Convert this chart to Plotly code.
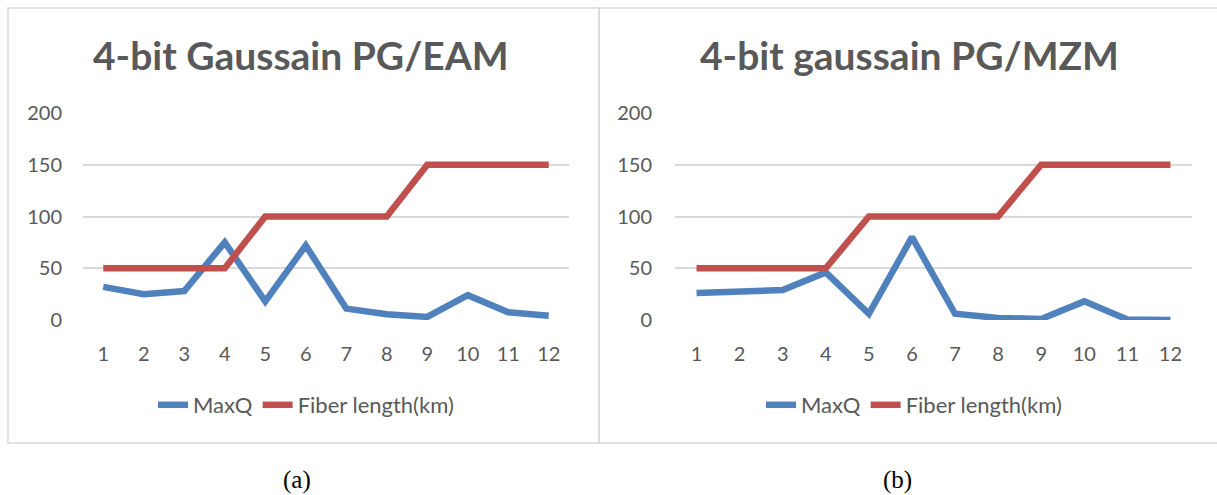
import plotly.graph_objects as go

# Sample index along the x axis
samples = list(range(1, 13))

# Panel (a): 4-bit Gaussian PG with EAM
maxq_eam = [32, 25, 28, 75, 18, 72, 11, 5.5, 3, 24, 7.5, 4]
fiber_eam = [50, 50, 50, 50, 100, 100, 100, 100, 150, 150, 150, 150]

# Panel (b): 4-bit Gaussian PG with MZM
maxq_mzm = [26, 28, 29, 46, 6, 80, 6, 2, 1, 18, 0.5, 0]
fiber_mzm = [50, 50, 50, 50, 100, 100, 100, 100, 150, 150, 150, 150]

titles = ["4-bit Gaussain PG/EAM", "4-bit gaussain PG/MZM"]
captions = ["(a)", "(b)"]
y_ticks = [0, 50, 100, 150, 200]

W, H = 1217, 495
BLUE = "#4F81BD"
RED = "#C0504D"
GREY_TXT = "#595959"
GRID = "#D9D9D9"
FONT = "Lato"


def px_x(p):
    return p / W


def px_y(p):
    return 1 - p / H


fig = go.Figure()

panels = [
    dict(maxq=maxq_eam, fiber=fiber_eam, xa="x", ya="y", legend="legend"),
    dict(maxq=maxq_mzm, fiber=fiber_mzm, xa="x2", ya="y2", legend="legend2"),
]

for p in panels:
    fig.add_trace(go.Scatter(x=samples, y=p["maxq"], mode="lines", name="MaxQ",
                             line=dict(color=BLUE, width=6.5),
                             xaxis=p["xa"], yaxis=p["ya"], legend=p["legend"]))
    fig.add_trace(go.Scatter(x=samples, y=p["fiber"], mode="lines",
                             name="Fiber length(km)",
                             line=dict(color=RED, width=6.5),
                             xaxis=p["xa"], yaxis=p["ya"], legend=p["legend"]))

ydom = (px_y(320), px_y(113))
axis_common = dict(showline=False, zeroline=False, ticks="", automargin=False,
                   tickfont=dict(family=FONT, size=20, color=GREY_TXT))

legend_common = dict(orientation="h", yanchor="middle", xanchor="center",
                     y=px_y(405), itemwidth=30, tracegroupgap=0,
                     font=dict(family=FONT, size=22, color=GREY_TXT),
                     bgcolor="rgba(0,0,0,0)")

fig.update_layout(
    width=W, height=H,
    margin=dict(l=0, r=0, t=0, b=0, pad=0, autoexpand=False),
    paper_bgcolor="white", plot_bgcolor="white",
    showlegend=True,
    xaxis=dict(domain=(px_x(83), px_x(569)), range=[0.5, 12.5],
               tickvals=samples, showgrid=False, anchor="y",
               ticklabelstandoff=20, **axis_common),
    yaxis=dict(domain=ydom, range=[0, 200], tickvals=y_ticks,
               showgrid=True, gridcolor=GRID, gridwidth=1.5, anchor="x",
               ticklabelstandoff=20, **axis_common),
    xaxis2=dict(domain=(px_x(675), px_x(1192)), range=[0.5, 12.5],
                tickvals=samples, showgrid=False, anchor="y2",
                ticklabelstandoff=20, **axis_common),
    yaxis2=dict(domain=ydom, range=[0, 200], tickvals=y_ticks,
                showgrid=True, gridcolor=GRID, gridwidth=1.5, anchor="x2",
                ticklabelstandoff=22, **axis_common),
    legend=dict(x=px_x(306), **legend_common),
    legend2=dict(x=px_x(914), **legend_common),
)

# Panel frames
fig.add_shape(type="rect", xref="paper", yref="paper",
              x0=px_x(8), x1=px_x(599), y0=px_y(443), y1=px_y(8),
              line=dict(color=GRID, width=1.5))
fig.add_shape(type="rect", xref="paper", yref="paper",
              x0=px_x(599), x1=px_x(1222), y0=px_y(443), y1=px_y(8),
              line=dict(color=GRID, width=1.5))

# Titles and captions
for cx, t in zip([301, 910], titles):
    fig.add_annotation(text=f"<b>{t}</b>", xref="paper", yref="paper",
                       x=px_x(cx), y=px_y(55), xanchor="center",
                       yanchor="middle", showarrow=False,
                       font=dict(family=FONT, size=39, color=GREY_TXT))
for cx, c in zip([297, 897], captions):
    fig.add_annotation(text=c, xref="paper", yref="paper",
                       x=px_x(cx), y=px_y(480), xanchor="center",
                       yanchor="middle", showarrow=False,
                       font=dict(family="Liberation Serif", size=25,
                                 color="black"))

fig.write_html("out.html")
